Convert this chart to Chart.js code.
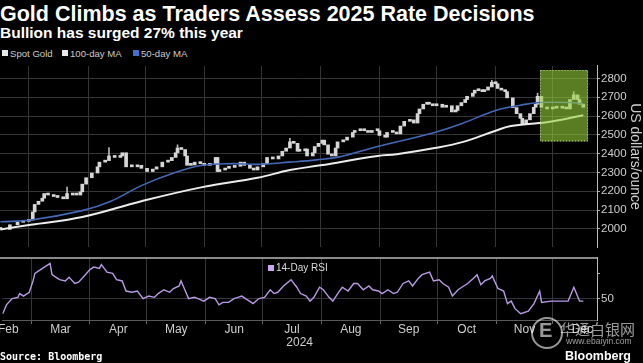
<!DOCTYPE html>
<html>
<head>
<meta charset="utf-8">
<script src="https://cdn.jsdelivr.net/npm/chart.js@4.4.1/dist/chart.umd.min.js"></script>
<style>
  body { margin:0; background:#000; width:643px; height:363px; overflow:hidden; position:relative;
         font-family:"Liberation Sans", Arial, sans-serif; color:#fff; }
  .t { position:absolute; white-space:nowrap; }
  .sq { position:absolute; width:6px; height:6px; }
  #mainBox { position:absolute; left:0; top:58px; width:643px; height:197px; }
  #rsiBox { position:absolute; left:0; top:250px; width:643px; height:100px; }
</style>
</head>
<body>
<div class="t" style="left:0;top:2px;font-size:21.5px;font-weight:bold;">Gold Climbs as Traders Assess 2025 Rate Decisions</div>
<div class="t" style="left:0;top:24px;font-size:15.5px;font-weight:bold;">Bullion has surged 27% this year</div>

<div class="sq" style="left:2px;top:50px;background:#e8e8e8"></div>
<div class="t" style="left:10px;top:48px;font-size:9.6px;color:#ccc">Spot Gold</div>
<div class="sq" style="left:62px;top:50px;background:#e8e8e8"></div>
<div class="t" style="left:70px;top:48px;font-size:9.6px;color:#ccc">100-day MA</div>
<div class="sq" style="left:133px;top:50px;background:#3f6fd0"></div>
<div class="t" style="left:141px;top:48px;font-size:9.6px;color:#ccc">50-day MA</div>

<div id="mainBox"><canvas id="main"></canvas></div>
<div id="rsiBox"><canvas id="rsi"></canvas></div>

<div class="sq" style="left:268px;top:265px;background:#c9a6f0"></div>
<div class="t" style="left:276px;top:262px;font-size:10px;color:#ddd">14-Day RSI</div>

<div class="t" style="left:0;top:351px;font-size:10px;font-weight:bold;font-family:'DejaVu Sans Mono',monospace;">Source: Bloomberg</div>
<div class="t" style="left:565px;top:349px;font-size:12.5px;font-weight:bold;">Bloomberg</div>

<div style="position:absolute;left:531px;top:317px;width:28px;height:28px;border:2px solid rgba(255,255,255,0.6);border-radius:50%;"></div>
<div class="t" style="left:539px;top:319px;font-size:20px;font-weight:bold;color:rgba(255,255,255,0.6)">E</div>
<div class="t" style="left:560px;top:318px;font-size:15px;font-family:'Noto Sans CJK SC';color:rgba(255,255,255,0.6)">华通白银网</div>
<div class="t" style="left:566px;top:336px;font-size:8.5px;color:rgba(255,255,255,0.6)">www.ebaiyin.com</div>

<script>
// x values are day of year 2024 (Jan 1 = 0)
var monthStartDay = [60, 91, 121, 152, 182, 213, 244, 274, 305, 335];
var monthNames = ['Feb', 'Mar', 'Apr', 'May', 'Jun', 'Jul', 'Aug', 'Sep', 'Oct', 'Nov', 'Dec'];
var monthLabelDay = [48, 75.5, 106, 136.5, 167, 197.5, 228.5, 259, 289.5, 320, 350.5];
var priceTicks = [2000, 2100, 2200, 2300, 2400, 2500, 2600, 2700, 2800];

var spotDay = [45,50,54,57,60,62,63,65,67,68,70,73,75,78,80,83,85,87,88,90,93,96,97,100,102,105,108,109,111,114,117,119,122,125,127,130,133,135,137,138,140,142,143,145,147,150,152,155,158,159,160,163,165,168,171,173,176,178,180,183,185,188,191,193,195,197,199,201,202,205,206,209,210,212,214,215,217,219,221,222,225,227,230,231,234,236,238,240,243,244,247,248,251,253,255,257,260,262,264,265,267,269,270,272,274,277,279,282,284,285,287,289,290,293,294,296,298,299,301,303,305,306,308,310,311,314,316,318,319,321,323,325,326,327,329,332,335,337,340,342,344,346,348,349,351];
var spotClose = [1997,2022,2035,2040,2047,2090,2130,2147,2163,2188,2180,2172,2167,2160,2188,2180,2180,2197,2238,2272,2297,2330,2355,2363,2388,2380,2388,2405,2330,2330,2338,2322,2305,2318,2330,2355,2363,2380,2405,2430,2422,2388,2338,2340,2355,2347,2338,2347,2380,2305,2313,2322,2327,2333,2355,2338,2322,2313,2330,2347,2380,2372,2388,2413,2430,2463,2455,2413,2415,2425,2388,2405,2438,2455,2472,2447,2397,2388,2430,2463,2472,2488,2513,2522,2522,2522,2513,2522,2522,2497,2488,2513,2513,2505,2547,2572,2580,2563,2613,2638,2663,2672,2663,2655,2663,2647,2655,2622,2630,2655,2672,2688,2705,2722,2738,2735,2730,2738,2755,2780,2772,2747,2738,2730,2697,2645,2613,2588,2558,2580,2613,2647,2663,2705,2647,2638,2647,2642,2647,2638,2688,2713,2688,2663,2647];

var wickDay = [80, 102, 138, 197, 303, 327, 346];
var wickLow = [2175, 2380, 2420, 2450, 2765, 2680, 2700];
var wickHigh = [2222, 2432, 2447, 2482, 2790, 2722, 2730];

var ma50Day = [45, 61, 88, 103, 119, 136, 151, 167, 180, 197, 211, 223, 243, 273, 288, 305, 318, 328, 344, 351];
var ma50 = [2038, 2047, 2097, 2147, 2230, 2297, 2338, 2347, 2343, 2355, 2367, 2383, 2438, 2513, 2563, 2630, 2658, 2672, 2672, 2665];

var ma100Day = [45, 61, 88, 119, 151, 180, 197, 213, 243, 253, 273, 288, 305, 313, 328, 335, 351];
var ma100 = [1997, 2022, 2063, 2147, 2222, 2272, 2313, 2338, 2388, 2397, 2430, 2463, 2522, 2547, 2563, 2572, 2605];

var rsiDay = [45,47,50,53,54,56,59,61,62,65,67,70,71,73,75,78,80,83,85,88,91,93,96,97,100,103,105,108,110,113,116,119,122,125,127,130,133,135,138,139,141,143,146,148,151,154,157,159,161,164,167,169,171,173,177,180,183,186,188,190,193,197,200,202,205,207,209,212,214,217,219,222,224,227,230,232,235,238,240,243,245,248,251,253,256,259,261,264,266,270,272,275,277,280,282,285,287,290,293,295,297,299,302,303,306,309,311,313,315,318,322,325,328,329,334,338,343,346,349,351];
var rsi = [38,45,50,51,54,52,55,64,70,73,75,78,69,67,65,64,67,62,63,68,73,75,74,77,71,70,65,64,56,55,56,50,52,51,54,57,55,58,60,64,57,50,51,50,48,51,50,45,47,47,50,51,52,50,46,50,51,57,54,55,60,65,59,54,52,48,51,59,57,51,48,55,59,56,62,62,57,60,57,56,54,57,54,55,62,64,60,66,69,71,64,65,62,59,52,57,59,62,66,69,61,64,66,68,58,56,46,48,42,38,40,46,56,47,48,48,48,59,48,48];

var rsiTicks = [50, 70];
var boxDays = [328.3, 353.5];
var boxPrices = [2465, 2845];

var X_MIN = 44.8, X_MAX = 358.2;
var GRID = '#353535';
var FONT = 'Liberation Sans, Arial, sans-serif';

Chart.defaults.font.family = FONT;
Chart.defaults.animation = false;

var candles = spotDay.map(function (d, i) {
  return { x: d, y: [i ? spotClose[i - 1] : spotClose[i], spotClose[i]] };
});
var wicks = wickDay.map(function (d, i) { return { x: d, y: [wickLow[i], wickHigh[i]] }; });

var highlight = {
  id: 'highlight',
  afterDatasetsDraw: function (chart) {
    var ctx = chart.ctx, x = chart.scales.x, y = chart.scales.y;
    var l = x.getPixelForValue(boxDays[0]), r = x.getPixelForValue(boxDays[1]);
    var t = y.getPixelForValue(boxPrices[1]), b = y.getPixelForValue(boxPrices[0]);
    ctx.save();
    ctx.fillStyle = 'rgba(150,208,58,0.6)';
    ctx.fillRect(l, t, r - l, b - t);
    ctx.setLineDash([1, 2]);
    ctx.strokeStyle = 'rgba(220,240,180,0.8)';
    ctx.strokeRect(l + 0.5, t + 0.5, r - l - 1, b - t - 1);
    ctx.restore();
  }
};

var topLine = {
  id: 'topLine',
  afterDraw: function (chart) {
    var ctx = chart.ctx, a = chart.chartArea;
    ctx.save();
    ctx.strokeStyle = '#8a8a8a';
    ctx.lineWidth = 2;
    ctx.beginPath();
    ctx.moveTo(0, a.top);
    ctx.lineTo(a.right, a.top);
    ctx.stroke();
    ctx.restore();
  }
};

new Chart(document.getElementById('main'), {
  type: 'bar',
  data: {
    datasets: [
      { type: 'line', label: '50-day MA', data: ma50Day.map(function (d, i) { return { x: d, y: ma50[i] }; }),
        borderColor: '#4468b8', borderWidth: 1.6, pointRadius: 0, tension: 0.4, order: 1 },
      { type: 'line', label: '100-day MA', data: ma100Day.map(function (d, i) { return { x: d, y: ma100[i] }; }),
        borderColor: '#ececec', borderWidth: 2, pointRadius: 0, tension: 0.4, order: 2 },
      { label: 'Spot Gold', data: candles, backgroundColor: '#d6d6d6', borderColor: '#8c8c8c', borderWidth: 0,
        barThickness: 3, minBarLength: 2, grouped: false, order: 3 },
      { label: 'wick', data: wicks, backgroundColor: '#b8b8b8', barThickness: 1, grouped: false, order: 4 }
    ]
  },
  options: {
    responsive: true,
    maintainAspectRatio: false,
    layout: { padding: { top: 4, left: 0, right: 0, bottom: 0 }, autoPadding: false },
    plugins: { legend: { display: false }, tooltip: { enabled: false } },
    scales: {
      x: {
        type: 'linear', min: X_MIN, max: X_MAX, offset: false,
        afterBuildTicks: function (s) { s.ticks = monthStartDay.map(function (v) { return { value: v }; }); },
        ticks: { display: false },
        grid: { color: GRID, drawTicks: false, offset: false },
        border: { display: false },
        afterFit: function (s) { s.height = 0; }
      },
      y: {
        position: 'right', min: 1903, max: 2867,
        afterBuildTicks: function (s) { s.ticks = priceTicks.map(function (v) { return { value: v }; }); },
        ticks: { color: '#cfcfcf', font: { size: 11.5 }, padding: 1, callback: function (v) { return String(v); } },
        grid: { color: GRID, tickColor: '#aaa', tickLength: 3 },
        border: { color: '#bbb' },
        title: { display: true, text: 'US dollars/ounce', color: '#cfcfcf', font: { size: 14 }, padding: 0 },
        afterFit: function (s) { s.width = 46; }
      }
    }
  },
  plugins: [highlight]
});

var rsiXTicks = monthStartDay.concat(monthLabelDay).sort(function (a, b) { return a - b; });

new Chart(document.getElementById('rsi'), {
  type: 'line',
  data: {
    datasets: [
      { label: '14-Day RSI', data: rsiDay.map(function (d, i) { return { x: d, y: rsi[i] }; }),
        borderColor: '#b99ae6', borderWidth: 1.4, pointRadius: 0, tension: 0 }
    ]
  },
  options: {
    responsive: true,
    maintainAspectRatio: false,
    layout: { padding: { top: 6, left: 0, right: 0, bottom: 0 }, autoPadding: false },
    plugins: { legend: { display: false }, tooltip: { enabled: false } },
    scales: {
      x: {
        type: 'linear', min: X_MIN, max: X_MAX, offset: false,
        afterBuildTicks: function (s) { s.ticks = rsiXTicks.map(function (v) { return { value: v }; }); },
        ticks: {
          autoSkip: false, maxRotation: 0, color: '#cfcfcf', font: { size: 12 }, padding: -2,
          callback: function (v) { var k = monthLabelDay.indexOf(v); return k < 0 ? '' : monthNames[k]; }
        },
        grid: {
          color: function (c) { return c.tick && monthStartDay.indexOf(c.tick.value) >= 0 ? GRID : 'rgba(0,0,0,0)'; },
          tickColor: function (c) { return c.tick && monthStartDay.indexOf(c.tick.value) >= 0 ? '#666' : 'rgba(0,0,0,0)'; },
          tickLength: 4, offset: false
        },
        border: { color: '#5a5a5a' },
        title: { display: true, text: '2024', color: '#cfcfcf', font: { size: 12 }, padding: 0 },
        afterFit: function (s) { s.height = 30; }
      },
      y: {
        position: 'right', min: 33, max: 82.3,
        afterBuildTicks: function (s) { s.ticks = rsiTicks.map(function (v) { return { value: v }; }); },
        ticks: { color: '#cfcfcf', font: { size: 11.5 }, padding: 1,
          callback: function (v) { return v === 50 ? '50' : ''; } },
        grid: {
          color: function (c) { return c.tick && c.tick.value === 50 ? GRID : 'rgba(0,0,0,0)'; },
          tickColor: '#aaa', tickLength: 3
        },
        border: { color: '#bbb' },
        afterFit: function (s) { s.width = 46; }
      }
    }
  },
  plugins: [topLine]
});
</script>
</body>
</html>
